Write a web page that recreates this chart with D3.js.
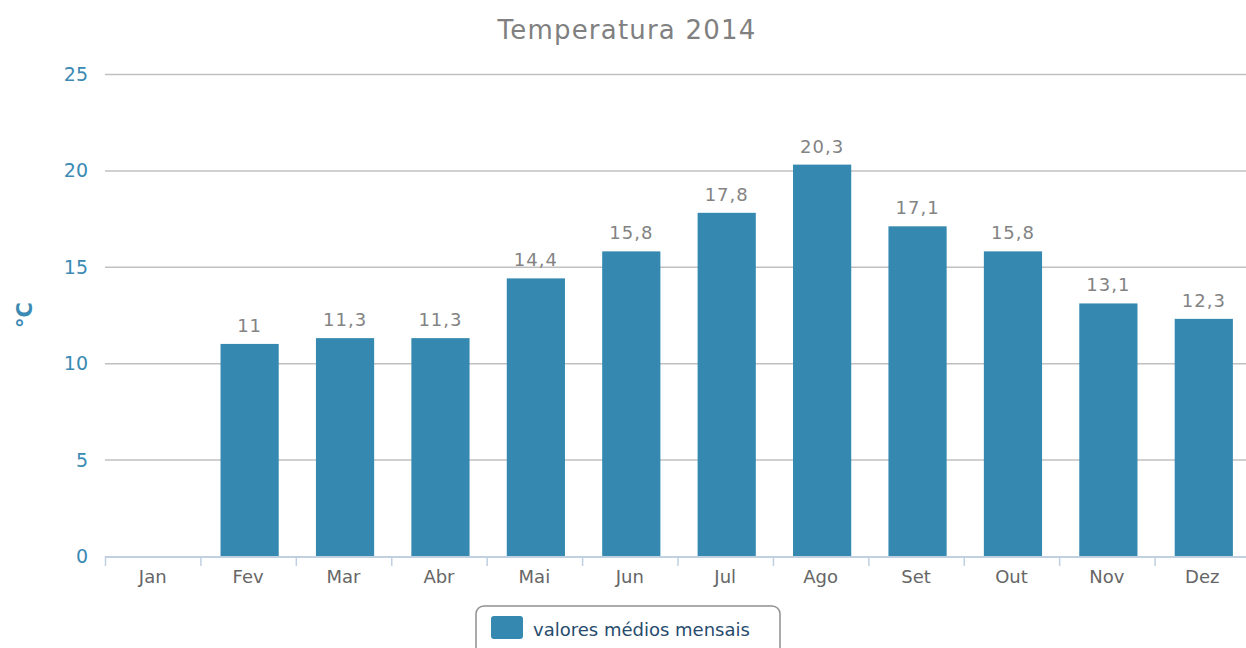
<!DOCTYPE html>
<html>
<head>
<meta charset="utf-8">
<script src="https://cdn.jsdelivr.net/npm/d3@7"></script>
<style>
  body { margin: 0; background: #fff; }
  svg { display: block; font-family: "DejaVu Sans", sans-serif; }
</style>
</head>
<body>
<div id="chart"></div>
<script>
// data
const months = ["Jan", "Fev", "Mar", "Abr", "Mai", "Jun", "Jul", "Ago", "Set", "Out", "Nov", "Dez"];
const temps = [null, 11, 11.3, 11.3, 14.4, 15.8, 17.8, 20.3, 17.1, 15.8, 13.1, 12.3];
const yTicks = [0, 5, 10, 15, 20, 25];
const seriesName = "valores médios mensais";

const W = 1246, H = 648;
const margin = {top: 74, right: -4, bottom: 92, left: 105};
const width = W - margin.left - margin.right;
const height = H - margin.top - margin.bottom;
const barColor = "#3589b0";
const blue = "#3a8ab3";

const svg = d3.select("#chart")
              .append("svg")
              .attr("width", W)
              .attr("height", H);

const g = svg.append("g")
             .attr("transform", `translate(${margin.left}, ${margin.top})`);

const x = d3.scaleBand()
            .domain(months)
            .range([0, width])
            .paddingInner(0.39)
            .paddingOuter(0.195);

const y = d3.scaleLinear()
            .domain([0, 25])
            .range([height, 0]);

// title
svg.append("text")
   .attr("x", 627)
   .attr("y", 39)
   .attr("text-anchor", "middle")
   .style("font-size", "26px")
   .style("letter-spacing", "1.2px")
   .style("fill", "#808080")
   .text("Temperatura 2014");

// gridlines
g.append("g")
 .selectAll("line")
 .data(yTicks.filter(d => d > 0))
 .join("line")
   .attr("x1", 0)
   .attr("x2", width)
   .attr("y1", d => y(d) + 0.5)
   .attr("y2", d => y(d) + 0.5)
   .style("stroke", "#c0c0c0")
   .style("stroke-width", 1.5);

// y labels
g.append("g")
 .selectAll("text")
 .data(yTicks)
 .join("text")
   .attr("x", -17)
   .attr("y", d => y(d) + 7)
   .attr("text-anchor", "end")
   .style("font-size", "19px")
   .style("fill", blue)
   .text(d => d);

// y title, centred on the plot
svg.append("text")
   .attr("transform", `translate(32, ${margin.top + height / 2}) rotate(-90)`)
   .attr("text-anchor", "middle")
   .style("font-size", "21px")
   .style("font-weight", "bold")
   .style("fill", blue)
   .text("°C");

// bars
g.append("g")
 .selectAll("rect")
 .data(months.map((m, i) => ({m: m, v: temps[i]})).filter(d => d.v !== null))
 .join("rect")
   .attr("x", d => x(d.m) + 1.5)
   .attr("y", d => y(d.v))
   .attr("width", x.bandwidth())
   .attr("height", d => height - y(d.v))
   .style("fill", barColor);

// value labels
g.append("g")
 .selectAll("text")
 .data(months.map((m, i) => ({m: m, v: temps[i]})).filter(d => d.v !== null))
 .join("text")
   .attr("x", d => x(d.m) + 1.5 + x.bandwidth() / 2)
   .attr("y", d => y(d.v) - 12)
   .attr("text-anchor", "middle")
   .style("font-size", "18px")
   .style("letter-spacing", "1px")
   .style("fill", "#838383")
   .text(d => String(d.v).replace(".", ","));

// x axis
const xa = g.append("g").attr("transform", `translate(0, ${height})`);
xa.append("line")
  .attr("x1", 0).attr("x2", width)
  .attr("y1", 1).attr("y2", 1)
  .style("stroke", "#c0d0e0")
  .style("stroke-width", 2);
const step = x.step();
xa.selectAll(".tick")
  .data(months)
  .join("line")
    .attr("class", "tick")
    .attr("x1", (d, i) => i * step + 0.5)
    .attr("x2", (d, i) => i * step + 0.5)
    .attr("y1", 0)
    .attr("y2", 10)
    .style("stroke", "#c0d0e0")
    .style("stroke-width", 1.5);
xa.selectAll(".lbl")
  .data(months)
  .join("text")
    .attr("class", "lbl")
    .attr("x", d => x(d) + x.bandwidth() / 2)
    .attr("y", 27)
    .attr("text-anchor", "middle")
    .style("font-size", "18px")
    .style("fill", "#666")
    .text(d => d);

// legend
const lg = svg.append("g").attr("transform", "translate(476, 606)");
lg.append("rect")
  .attr("x", 0).attr("y", 0)
  .attr("width", 304).attr("height", 60)
  .attr("rx", 8)
  .style("fill", "#fff")
  .style("stroke", "#909090")
  .style("stroke-width", 1.5);
lg.append("rect")
  .attr("x", 15).attr("y", 10)
  .attr("width", 32).attr("height", 23)
  .attr("rx", 3)
  .style("fill", barColor);
lg.append("text")
  .attr("x", 57).attr("y", 30)
  .style("font-size", "18px")
  .style("fill", "#274b6d")
  .text(seriesName);
</script>
</body>
</html>
